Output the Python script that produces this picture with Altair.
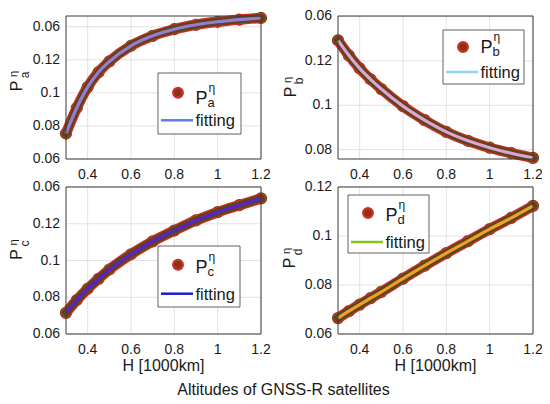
import altair as alt
import pandas as pd

# ---- data ----
H = [0.3, 0.35, 0.4, 0.45, 0.5, 0.6, 0.7, 0.8, 0.9, 1.0, 1.1, 1.2]
P_a = [0.0754, 0.0910, 0.1035, 0.1125, 0.1190, 0.1285, 0.1345, 0.1385, 0.1412, 0.1430, 0.1443, 0.1453]
P_b = [0.1292, 0.1225, 0.1166, 0.1117, 0.1073, 0.0996, 0.0933, 0.0880, 0.0840, 0.0809, 0.0784, 0.0763]
P_c = [0.0715, 0.0785, 0.0846, 0.0900, 0.0951, 0.1034, 0.1104, 0.1163, 0.1218, 0.1263, 0.1301, 0.1338]
P_d = [0.0665, 0.0693, 0.0720, 0.0746, 0.0772, 0.0826, 0.0879, 0.0930, 0.0979, 0.1028, 0.1074, 0.1123]

x_domain = [0.3, 1.2]
x_ticks = [0.4, 0.6, 0.8, 1.0, 1.2]
x_labels = ["0.4", "0.6", "0.8", "1", "1.2"]
y_dom_a = [0.06, 0.1465]
y_dom_b = [0.0758, 0.1402]
y_dom_c = [0.06, 0.14]
y_dom_d = [0.06, 0.12]
y_ticks_a = [0.06, 0.08, 0.1, 0.12, 0.14]
y_ticks_b = [0.08, 0.1, 0.12, 0.14]
y_ticks_c = [0.06, 0.08, 0.1, 0.12, 0.14]
y_ticks_d = [0.06, 0.08, 0.1, 0.12]
y_labels_a = ["0.06", "0.08", "0.1", "0.12", "0.06"]
y_labels_b = ["0.08", "0.1", "0.12", "0.06"]
y_labels_c = ["0.06", "0.08", "0.1", "0.12", "0.06"]
y_labels_d = ["0.06", "0.08", "0.1", "0.12"]
subs = ["a", "b", "c", "d"]
fit_colors = ["#5d80e4", "#8fd2f2", "#1b1bd4", "#86c322"]      # legend swatches
curve_colors = ["#9a7ad8", "#dca4d8", "#5a22c8", "#e8a424"]     # fitting line as seen on the band
x_title = "H [1000km]"
main_title = "Altitudes of GNSS-R satellites"
legend_fit = "fitting"

FONT = "Liberation Sans"
RED = "#d0302a"
BROWN = "#5e4418"
TXT = "#1a1a1a"
GRID = "#dcdcdc"
FRAME = "#3a3a3a"

VIEW_W, VIEW_H = 468, 318
ONE = pd.DataFrame({"k": [0]})


def panel(vals, ydom, yticks, ylabels, sub, fitc, curc, origin, size, show_x_title, leg, ytit, extra=None):
    ox, oy = origin
    w, h = size
    xs = alt.Scale(domain=x_domain, range=[ox, ox + w], nice=False, zero=False)
    ys = alt.Scale(domain=ydom, range=[oy + h, oy], nice=False, zero=False)

    df = pd.DataFrame({"H": H, "P": vals})
    base = alt.Chart(df).encode(x=alt.X("H:Q", scale=xs, axis=None),
                                y=alt.Y("P:Q", scale=ys, axis=None))

    vgrid = alt.Chart(pd.DataFrame({"H": x_ticks})).mark_rule(color=GRID, strokeWidth=0.8).encode(
        x=alt.X("H:Q", scale=xs, axis=None),
        y=alt.YDatum(datum=ydom[0], type="quantitative", scale=ys, axis=None),
        y2=alt.datum(ydom[1]))
    hgrid = alt.Chart(pd.DataFrame({"P": yticks})).mark_rule(color=GRID, strokeWidth=0.8).encode(
        x=alt.XDatum(datum=x_domain[0], type="quantitative", scale=xs, axis=None),
        x2=alt.datum(x_domain[1]),
        y=alt.Y("P:Q", scale=ys, axis=None))
    frame = alt.Chart(ONE).mark_rect(fillOpacity=0, stroke=FRAME, strokeWidth=1).encode(
        x=alt.XDatum(datum=x_domain[0], type="quantitative", scale=xs, axis=None),
        x2=alt.datum(x_domain[1]),
        y=alt.YDatum(datum=ydom[0], type="quantitative", scale=ys, axis=None),
        y2=alt.datum(ydom[1]))

    # tick labels, placed through the panel's scales
    xl = alt.Chart(pd.DataFrame({"H": x_ticks, "lab": x_labels})).mark_text(
        font=FONT, fontSize=14, color=TXT, align="center", baseline="top", dy=9).encode(
        x=alt.X("H:Q", scale=xs, axis=None),
        y=alt.YDatum(datum=ydom[0], type="quantitative", scale=ys, axis=None),
        text="lab:N")
    yl = alt.Chart(pd.DataFrame({"P": yticks, "lab": ylabels})).mark_text(
        font=FONT, fontSize=14, color=TXT, align="right", baseline="middle", dx=-6).encode(
        x=alt.XDatum(datum=x_domain[0], type="quantitative", scale=xs, axis=None),
        y=alt.Y("P:Q", scale=ys, axis=None),
        text="lab:N")

    pts = base.mark_circle(size=115, fill=RED, stroke=BROWN, strokeWidth=1.5, opacity=1)
    band1 = base.mark_line(color=RED, strokeWidth=10.5, strokeCap="round", interpolate="monotone")
    band2 = base.mark_line(color=BROWN, strokeWidth=8, strokeCap="round", interpolate="monotone")
    fit = base.mark_line(color=curc, strokeWidth=3.2, interpolate="monotone")

    one = alt.Chart(ONE)
    bx, by, bw, bh, my, pb, ly = leg
    bx += ox
    by += oy
    box = one.mark_rect(fill="white", stroke=FRAME, strokeWidth=0.8).encode(
        x=alt.value(bx), x2=alt.value(bx + bw), y=alt.value(by), y2=alt.value(by + bh))
    mk = one.mark_circle(size=95, fill="#8a3416", stroke=RED, strokeWidth=2.2, opacity=1).encode(
        x=alt.value(bx + 20), y=alt.value(by + my))
    ptxt = one.mark_text(text="P", font=FONT, fontSize=18, align="left", baseline="alphabetic",
                         color=TXT).encode(x=alt.value(bx + 37.5), y=alt.value(by + pb))
    eta = one.mark_text(text="η", font=FONT, fontSize=12, align="left", baseline="alphabetic",
                        color=TXT).encode(x=alt.value(bx + 50.5), y=alt.value(by + pb - 12))
    stx = one.mark_text(text=sub, font=FONT, fontSize=13, align="left", baseline="alphabetic",
                        color=TXT).encode(x=alt.value(bx + 49.5), y=alt.value(by + pb + 3))
    lrule = one.mark_rule(color=fitc, strokeWidth=2.5).encode(
        x=alt.value(bx + 3), x2=alt.value(bx + 35), y=alt.value(by + ly))
    ftxt = one.mark_text(text=legend_fit, font=FONT, fontSize=16.5, align="left", baseline="middle",
                         color=TXT).encode(x=alt.value(bx + 37.5), y=alt.value(by + ly + 1))

    tx, ty = ytit
    tx += ox
    ty += oy
    yP = one.mark_text(text="P", font=FONT, fontSize=16, angle=270, align="center", baseline="middle",
                       color=TXT).encode(x=alt.value(tx), y=alt.value(ty))
    yE = one.mark_text(text="η", font=FONT, fontSize=11, angle=270, align="center", baseline="middle",
                       color=TXT).encode(x=alt.value(tx - 3), y=alt.value(ty - 12))
    yS = one.mark_text(text=sub, font=FONT, fontSize=12, angle=270, align="center", baseline="middle",
                       color=TXT).encode(x=alt.value(tx + 8), y=alt.value(ty - 11))

    layers = [vgrid, hgrid, pts, band1, band2, fit, frame, xl, yl,
              box, mk, ptxt, eta, stx, lrule, ftxt, yP, yE, yS]
    if show_x_title:
        layers.append(one.mark_text(text=x_title, font=FONT, fontSize=16, align="center",
                                    baseline="top", color=TXT).encode(
            x=alt.value(ox + w / 2), y=alt.value(oy + h + 24)))
    if extra is not None:
        ex, ey = extra
        layers.append(one.mark_text(text=main_title, font=FONT, fontSize=16, align="center",
                                    baseline="alphabetic", color=TXT).encode(
            x=alt.value(ex), y=alt.value(ey)))
    return alt.layer(*layers)


pa = panel(P_a, y_dom_a, y_ticks_a, y_labels_a, subs[0], fit_colors[0], curve_colors[0], (0, 0), (195, 143),
           False, (92, 57, 83, 61, 19.7, 30.5, 47.3), (-49, 70))
pb = panel(P_b, y_dom_b, y_ticks_b, y_labels_b, subs[1], fit_colors[1], curve_colors[1], (272, 0), (195, 143),
           False, (105, 14, 81, 54, 17, 22.5, 42), (-47, 76))
pc = panel(P_c, y_dom_c, y_ticks_c, y_labels_c, subs[2], fit_colors[2], curve_colors[2], (0, 171), (195, 147),
           True, (92, 59, 82, 61, 18.7, 27, 47.7), (-49, 67.5), extra=(217.5, 379))
pdd = panel(P_d, y_dom_d, y_ticks_d, y_labels_d, subs[3], fit_colors[3], curve_colors[3], (272, 171), (195, 147),
            True, (10, 8, 81, 58, 18, 26, 47), (-48, 76))

chart = alt.layer(pa, pb, pc, pdd).resolve_scale(x="independent", y="independent").properties(
    width=VIEW_W, height=VIEW_H,
    autosize=alt.AutoSizeParams(type="none"),
    padding={"left": 58, "top": 8, "right": 8, "bottom": 62},
    background="white",
).configure_view(strokeWidth=0)

chart.save("out.html", embed_options={"renderer": "svg", "actions": False})
